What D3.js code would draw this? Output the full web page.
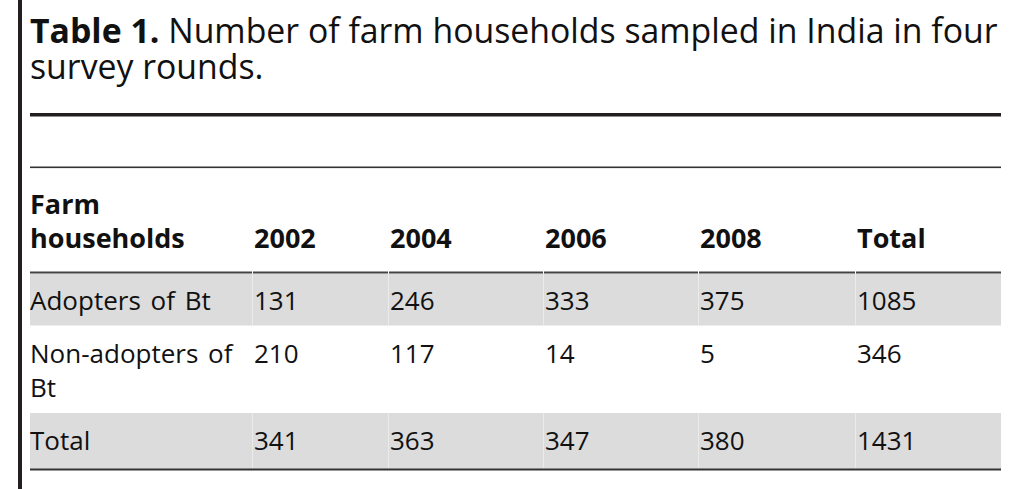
<!DOCTYPE html>
<html>
<head>
<meta charset="utf-8">
<script src="https://cdn.jsdelivr.net/npm/d3@7"></script>
<style>
    body { margin: 0; background: #fff; }
    text { font-family: "Open Sans", sans-serif; fill: #111; }
</style>
</head>
<body>
<div id="table"></div>
<script>
// table content
var titleBold = "Table 1.";
var titleRest = "Number of farm households sampled in India in four";
var titleLine2 = "survey rounds.";
var columns = ["Farm households", "2002", "2004", "2006", "2008", "Total"];
var rowLabels = ["Adopters of Bt", "Non-adopters of Bt", "Total"];
var adopters = [131, 246, 333, 375, 1085];
var nonAdopters = [210, 117, 14, 5, 346];
var totals = [341, 363, 347, 380, 1431];

var rows = [adopters, nonAdopters, totals];

var width = 1026, height = 489;
var left = 30, right = 1001;

var svg = d3.select("#table").append("svg")
    .attr("width", width)
    .attr("height", height);

// column positions
var x = d3.scaleOrdinal()
    .domain(columns)
    .range([30, 253, 389, 544, 699, 856]);
var cellEnd = function (i) {
    return i < columns.length - 1 ? x(columns[i + 1]) - 1 : right;
};

// row bands
var rowTop = d3.scaleOrdinal().domain(rowLabels).range([273.5, 326, 413]);
var rowBottom = d3.scaleOrdinal().domain(rowLabels).range([325.5, 413, 469]);
var rowShade = d3.scaleOrdinal().domain(rowLabels).range(["#dcdcdc", "#ffffff", "#dcdcdc"]);
var lineHeight = 34;

var headFont = "27px";
var bodyFont = "26px";

// wrap text into lines that fit maxW
function wrapLines(str, maxW, size, weight) {
    var probe = svg.append("text")
        .style("font-size", size)
        .style("font-weight", weight);
    var words = str.split(" "), lines = [], cur = "";
    words.forEach(function (w) {
        var test = cur ? cur + " " + w : w;
        probe.text(test);
        if (probe.node().getComputedTextLength() > maxW && cur) {
            lines.push(cur);
            cur = w;
        } else {
            cur = test;
        }
    });
    lines.push(cur);
    probe.remove();
    return lines;
}

// left bar
svg.append("rect")
    .attr("x", 18).attr("y", 0)
    .attr("width", 4).attr("height", height)
    .style("fill", "#231f20");

// title, both lines in one text block
var title = svg.append("text")
    .attr("x", left).attr("y", 43)
    .style("font-size", "33.8px");
title.append("tspan").style("font-weight", "bold").text(titleBold);
title.append("tspan").text(" " + titleRest);
title.append("tspan")
    .attr("x", left).attr("y", 79)
    .text(titleLine2);

// rules
svg.append("rect")
    .attr("x", left).attr("y", 113)
    .attr("width", right - left).attr("height", 3.5)
    .style("fill", "#231f20");
svg.append("rect")
    .attr("x", left).attr("y", 166.5)
    .attr("width", right - left).attr("height", 1.6)
    .style("fill", "#333");

// row shading
rowLabels.forEach(function (r) {
    svg.append("rect")
        .attr("x", left)
        .attr("y", rowTop(r))
        .attr("width", right - left)
        .attr("height", rowBottom(r) - rowTop(r))
        .style("fill", rowShade(r));
});

// faint column separators in the shaded rows
rowLabels.forEach(function (r) {
    if (rowShade(r) === "#ffffff") return;
    svg.selectAll(null)
        .data(columns.slice(1))
        .enter()
        .append("rect")
        .attr("x", function (c) { return x(c) - 1; })
        .attr("y", rowTop(r))
        .attr("width", 1)
        .attr("height", rowBottom(r) - rowTop(r))
        .style("fill", "#ebebeb");
});

// header bottom rule, segmented by cell
svg.selectAll(null)
    .data(columns)
    .enter()
    .append("rect")
    .attr("x", function (c) { return x(c); })
    .attr("y", 271.5)
    .attr("width", function (c, i) { return cellEnd(i) - x(c); })
    .attr("height", 2)
    .style("fill", "#444");

// bottom rule
svg.append("rect")
    .attr("x", left).attr("y", 468.5)
    .attr("width", right - left).attr("height", 2)
    .style("fill", "#333");

// header text
columns.forEach(function (c, i) {
    var t = svg.append("text")
        .style("font-weight", "bold")
        .style("font-size", headFont);
    var lines = i === 0 ? wrapLines(c, 210, headFont, "bold") : [c];
    var y0 = 248 - (lines.length - 1) * lineHeight;
    lines.forEach(function (l, k) {
        t.append("tspan")
            .attr("x", x(c) + (i === 0 ? 0 : 1))
            .attr("y", y0 + k * lineHeight)
            .text(l);
    });
});

// body text
rowLabels.forEach(function (r, ri) {
    var base = rowTop(r) + 36.5;
    var lines = wrapLines(r, 210, bodyFont, "normal");
    var t = svg.append("text")
        .style("font-size", bodyFont)
        .style("word-spacing", "3px");
    lines.forEach(function (l, k) {
        t.append("tspan")
            .attr("x", x(columns[0]))
            .attr("y", base + k * lineHeight)
            .text(l);
    });
    svg.selectAll(null)
        .data(rows[ri])
        .enter()
        .append("text")
        .attr("x", function (d, i) { return x(columns[i + 1]) + 1; })
        .attr("y", base)
        .style("font-size", bodyFont)
        .text(function (d) { return d; });
});
</script>
</body>
</html>
